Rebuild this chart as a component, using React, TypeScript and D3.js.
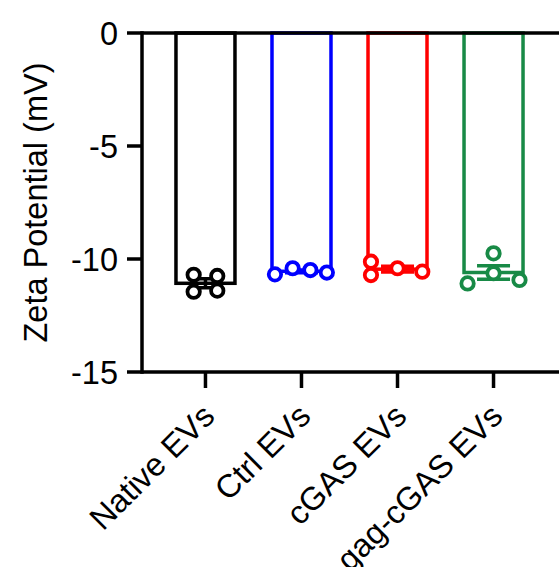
import * as d3 from "d3";

// zeta potential per preparation (mV), four replicates each
const groups = ["Native EVs", "Ctrl EVs", "cGAS EVs", "gag-cGAS EVs"];
const nativeVals = [-10.7, -10.75, -11.45, -11.4];
const ctrlVals = [-10.68, -10.41, -10.49, -10.6];
const cgasVals = [-10.12, -10.41, -10.56, -10.71];
const gagVals = [-11.08, -9.75, -10.63, -10.93];
const yTicks = [0, -5, -10, -15];

// horizontal spread of the replicate dots, as fraction of bar width
const nativeSpread = [-0.2, 0.2, -0.2, 0.2];
const ctrlSpread = [-0.45, -0.15, 0.15, 0.43];
const cgasSpread = [-0.45, 0, 0.42, -0.45];
const gagSpread = [-0.44, 0, 0, 0.44];

const colors = ["#000000", "#0000ff", "#ff0000", "#188a46"];

const W = 559;
const H = 567;
const left = 142;
const top = 33;
const bottom = 372;
const sw = 3.5;
const fs = 32.5;
const font = "'Liberation Sans', Arial, sans-serif";

export default function App() {
  const series = [nativeVals, ctrlVals, cgasVals, gagVals];
  const spreads = [nativeSpread, ctrlSpread, cgasSpread, gagSpread];

  const y = d3.scaleLinear().domain([0, -15]).range([top, bottom]);
  const x = d3.scalePoint<string>().domain(groups).range([left, 557]).padding(0.661);
  const barW = 59;

  return (
    <svg width={W} height={H} style={{ position: "absolute", left: 0, top: 0, background: "#fff" }} fontFamily={font}>
      {/* bars, error bars, dots */}
      {groups.map((g, i) => {
        const vals = series[i];
        const mean = d3.mean(vals) as number;
        const sem = (d3.deviation(vals) as number) / Math.sqrt(vals.length);
        const cx = x(g) as number;
        const c = colors[i];
        return (
          <g key={g}>
            <rect x={cx - barW / 2} y={y(0)} width={barW} height={y(mean) - y(0)} fill="none" stroke={c} strokeWidth={sw} />
            <line x1={cx} x2={cx} y1={y(mean + sem)} y2={y(mean - sem)} stroke={c} strokeWidth={sw} />
            <line x1={cx - 16.5} x2={cx + 16.5} y1={y(mean + sem)} y2={y(mean + sem)} stroke={c} strokeWidth={sw} />
            <line x1={cx - 16.5} x2={cx + 16.5} y1={y(mean - sem)} y2={y(mean - sem)} stroke={c} strokeWidth={sw} />
            {vals.map((v, j) => (
              <circle key={j} cx={cx + spreads[i][j] * barW} cy={y(v)} r={6.2} fill="#fff" stroke={c} strokeWidth={3.8} />
            ))}
          </g>
        );
      })}

      {/* frame lines */}
      <line x1={left} x2={W} y1={top} y2={top} stroke="#000" strokeWidth={sw} />
      <line x1={left} x2={W} y1={bottom} y2={bottom} stroke="#000" strokeWidth={sw} />
      <line x1={left} x2={left} y1={top - sw / 2} y2={bottom + sw / 2} stroke="#000" strokeWidth={sw} />

      {/* y ticks */}
      {yTicks.map((t) => (
        <g key={t} transform={`translate(0,${y(t)})`}>
          <line x1={127} x2={left} stroke="#000" strokeWidth={sw} />
          <text x={118} dy="0.36em" textAnchor="end" fontSize={fs} fill="#000">
            {t}
          </text>
        </g>
      ))}

      {/* x ticks and labels */}
      {groups.map((g) => {
        const cx = x(g) as number;
        return (
          <g key={g}>
            <line x1={cx} x2={cx} y1={bottom} y2={bottom + 16} stroke="#000" strokeWidth={sw} />
            <text transform={`translate(${cx - 5},${bottom + 30}) rotate(-45)`} textAnchor="end" dy="0.7em" fontSize={fs} fill="#000">
              {g}
            </text>
          </g>
        );
      })}

      <text transform={`translate(35,${(top + bottom) / 2}) rotate(-90)`} textAnchor="middle" dy="0.36em" fontSize={fs} fill="#000">
        Zeta Potential (mV)
      </text>
    </svg>
  );
}
